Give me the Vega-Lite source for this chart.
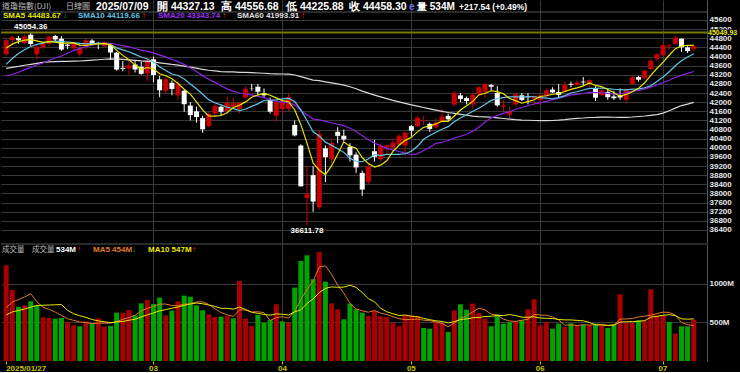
{
"$schema": "https://vega.github.io/schema/vega-lite/v6.json",
"background": "#000000",
"padding": 0,
"config": {
  "view": {"stroke": null},
  "font": "Liberation Sans",
  "concat": {"spacing": 0},
  "axis": {"labelFont": "Liberation Sans", "labelFontWeight": "bold", "labelFontSize": 8, "labelColor": "#e6e6e6", "gridColor": "#3a3a3a", "domainColor": "#555555", "ticks": false, "labelOverlap": false}
},
"datasets": {"k": [
{"d":"2025-01-27","o":44100,"h":44800,"l":44050,"c":44713.58,"v":1238,"chg":289,"s5":44377,"s10":43656,"s20":43147,"s60":43479,"vm5":690,"vm10":595},
{"d":"2025-01-28","o":44713,"h":44920,"l":44550,"c":44850.35,"v":919,"chg":137,"s5":44542,"s10":43912,"s20":43223,"s60":43523,"vm5":763,"vm10":635},
{"d":"2025-01-29","o":44800,"h":44900,"l":44560,"c":44713.52,"v":703,"chg":-137,"s5":44653,"s10":44131,"s20":43309,"s60":43565,"vm5":793,"vm10":653},
{"d":"2025-01-30","o":44600,"h":44970,"l":44550,"c":44882.13,"v":720,"chg":169,"s5":44717,"s10":44297,"s20":43424,"s60":43617,"vm5":827,"vm10":672},
{"d":"2025-01-31","o":44950,"h":45054.36,"l":44470,"c":44544.66,"v":772,"chg":-337,"s5":44741,"s10":44437,"s20":43524,"s60":43659,"vm5":870,"vm10":697},
{"d":"2025-02-03","o":44100,"h":44500,"l":43880,"c":44421.91,"v":720,"chg":-123,"s5":44683,"s10":44530,"s20":43626,"s60":43703,"vm5":767,"vm10":717},
{"d":"2025-02-04","o":44400,"h":44620,"l":44330,"c":44556.04,"v":565,"chg":134,"s5":44624,"s10":44583,"s20":43717,"s60":43742,"vm5":696,"vm10":721},
{"d":"2025-02-05","o":44560,"h":44900,"l":44450,"c":44873.28,"v":556,"chg":317,"s5":44656,"s10":44655,"s20":43825,"s60":43761,"vm5":667,"vm10":724},
{"d":"2025-02-06","o":44900,"h":44950,"l":44650,"c":44747.63,"v":548,"chg":-126,"s5":44629,"s10":44673,"s20":43936,"s60":43778,"vm5":632,"vm10":727},
{"d":"2025-02-07","o":44780,"h":44900,"l":44250,"c":44303.40,"v":556,"chg":-444,"s5":44580,"s10":44661,"s20":44020,"s60":43783,"vm5":589,"vm10":730},
{"d":"2025-02-10","o":44520,"h":44560,"l":44330,"c":44470.41,"v":505,"chg":167,"s5":44590,"s10":44636,"s20":44146,"s60":43786,"vm5":546,"vm10":656},
{"d":"2025-02-11","o":44360,"h":44640,"l":44260,"c":44593.65,"v":462,"chg":123,"s5":44598,"s10":44611,"s20":44261,"s60":43797,"vm5":525,"vm10":611},
{"d":"2025-02-12","o":44100,"h":44500,"l":44000,"c":44368.56,"v":449,"chg":-225,"s5":44497,"s10":44576,"s20":44354,"s60":43804,"vm5":504,"vm10":585},
{"d":"2025-02-13","o":44450,"h":44780,"l":44300,"c":44711.43,"v":513,"chg":343,"s5":44489,"s10":44559,"s20":44428,"s60":43820,"vm5":497,"vm10":565},
{"d":"2025-02-14","o":44700,"h":44760,"l":44500,"c":44546.08,"v":483,"chg":-165,"s5":44538,"s10":44559,"s20":44498,"s60":43838,"vm5":482,"vm10":536},
{"d":"2025-02-18","o":44600,"h":44620,"l":44330,"c":44556.34,"v":552,"chg":10,"s5":44555,"s10":44573,"s20":44551,"s60":43858,"vm5":492,"vm10":519},
{"d":"2025-02-19","o":44450,"h":44670,"l":44400,"c":44627.59,"v":444,"chg":71,"s5":44562,"s10":44580,"s20":44581,"s60":43881,"vm5":488,"vm10":507},
{"d":"2025-02-20","o":44500,"h":44580,"l":43850,"c":44176.65,"v":453,"chg":-451,"s5":44524,"s10":44510,"s20":44582,"s60":43893,"vm5":489,"vm10":497},
{"d":"2025-02-21","o":44170,"h":44200,"l":43380,"c":43428.02,"v":625,"chg":-749,"s5":44267,"s10":44378,"s20":44526,"s60":43886,"vm5":511,"vm10":504},
{"d":"2025-02-24","o":43500,"h":43800,"l":43350,"c":43461.21,"v":625,"chg":33,"s5":44050,"s10":44294,"s20":44477,"s60":43872,"vm5":540,"vm10":511},
{"d":"2025-02-25","o":43480,"h":43860,"l":43200,"c":43621.16,"v":660,"chg":160,"s5":43863,"s10":44209,"s20":44423,"s60":43853,"vm5":561,"vm10":527},
{"d":"2025-02-26","o":43650,"h":43800,"l":43300,"c":43433.12,"v":591,"chg":-188,"s5":43624,"s10":44093,"s20":44352,"s60":43830,"vm5":591,"vm10":540},
{"d":"2025-02-27","o":43550,"h":43780,"l":43200,"c":43239.50,"v":746,"chg":-194,"s5":43437,"s10":43980,"s20":44278,"s60":43805,"vm5":649,"vm10":569},
{"d":"2025-02-28","o":43250,"h":43880,"l":42900,"c":43840.91,"v":789,"chg":601,"s5":43519,"s10":43893,"s20":44226,"s60":43787,"vm5":682,"vm10":597},
{"d":"2025-03-03","o":43880,"h":44000,"l":42880,"c":43191.24,"v":737,"chg":-650,"s5":43465,"s10":43758,"s20":44158,"s60":43761,"vm5":705,"vm10":622},
{"d":"2025-03-04","o":43000,"h":43150,"l":42220,"c":42520.99,"v":819,"chg":-670,"s5":43245,"s10":43554,"s20":44063,"s60":43724,"vm5":736,"vm10":649},
{"d":"2025-03-05","o":42500,"h":43100,"l":42350,"c":43006.59,"v":591,"chg":486,"s5":43160,"s10":43392,"s20":43986,"s60":43691,"vm5":736,"vm10":664},
{"d":"2025-03-06","o":42850,"h":42950,"l":42300,"c":42579.08,"v":651,"chg":-428,"s5":43028,"s10":43232,"s20":43871,"s60":43654,"vm5":717,"vm10":683},
{"d":"2025-03-07","o":42300,"h":42900,"l":42100,"c":42801.72,"v":772,"chg":223,"s5":42820,"s10":43170,"s20":43774,"s60":43624,"vm5":714,"vm10":698},
{"d":"2025-03-10","o":42500,"h":42550,"l":41580,"c":41911.71,"v":845,"chg":-890,"s5":42564,"s10":43015,"s20":43654,"s60":43582,"vm5":736,"vm10":720},
{"d":"2025-03-11","o":41850,"h":42000,"l":41200,"c":41433.48,"v":832,"chg":-478,"s5":42347,"s10":42796,"s20":43503,"s60":43535,"vm5":738,"vm10":737},
{"d":"2025-03-12","o":41600,"h":41800,"l":41100,"c":41350.93,"v":720,"chg":-83,"s5":42015,"s10":42588,"s20":43340,"s60":43489,"vm5":764,"vm10":750},
{"d":"2025-03-13","o":41300,"h":41400,"l":40660,"c":40813.57,"v":656,"chg":-537,"s5":41662,"s10":42345,"s20":43163,"s60":43437,"vm5":765,"vm10":741},
{"d":"2025-03-14","o":40950,"h":41560,"l":40900,"c":41488.19,"v":604,"chg":675,"s5":41400,"s10":42110,"s20":43001,"s60":43398,"vm5":731,"vm10":723},
{"d":"2025-03-17","o":41500,"h":41960,"l":41400,"c":41841.63,"v":569,"chg":353,"s5":41386,"s10":41975,"s20":42866,"s60":43367,"vm5":676,"vm10":706},
{"d":"2025-03-18","o":41800,"h":41840,"l":41400,"c":41581.31,"v":574,"chg":-260,"s5":41415,"s10":41881,"s20":42718,"s60":43336,"vm5":625,"vm10":681},
{"d":"2025-03-19","o":41600,"h":42240,"l":41500,"c":41964.63,"v":582,"chg":383,"s5":41538,"s10":41777,"s20":42584,"s60":43330,"vm5":597,"vm10":681},
{"d":"2025-03-20","o":41800,"h":42200,"l":41700,"c":41953.32,"v":552,"chg":-11,"s5":41766,"s10":41714,"s20":42473,"s60":43323,"vm5":576,"vm10":671},
{"d":"2025-03-21","o":41700,"h":42000,"l":41500,"c":41985.35,"v":1035,"chg":32,"s5":41865,"s10":41632,"s20":42401,"s60":43309,"vm5":662,"vm10":697},
{"d":"2025-03-24","o":42200,"h":42700,"l":42150,"c":42583.32,"v":548,"chg":598,"s5":42013,"s10":41700,"s20":42357,"s60":43303,"vm5":658,"vm10":667},
{"d":"2025-03-25","o":42600,"h":42800,"l":42500,"c":42587.50,"v":453,"chg":4,"s5":42215,"s10":41815,"s20":42305,"s60":43292,"vm5":634,"vm10":629},
{"d":"2025-03-26","o":42680,"h":42800,"l":42300,"c":42454.79,"v":595,"chg":-133,"s5":42313,"s10":41925,"s20":42257,"s60":43277,"vm5":637,"vm10":617},
{"d":"2025-03-27","o":42400,"h":42600,"l":42200,"c":42299.70,"v":496,"chg":-155,"s5":42382,"s10":42074,"s20":42210,"s60":43266,"vm5":625,"vm10":601},
{"d":"2025-03-28","o":42100,"h":42200,"l":41500,"c":41583.90,"v":530,"chg":-716,"s5":42302,"s10":42084,"s20":42097,"s60":43249,"vm5":524,"vm10":593},
{"d":"2025-03-31","o":41400,"h":42050,"l":41150,"c":42001.76,"v":733,"chg":418,"s5":42186,"s10":42100,"s20":42037,"s60":43240,"vm5":561,"vm10":610},
{"d":"2025-04-01","o":41700,"h":42100,"l":41500,"c":41989.96,"v":513,"chg":-12,"s5":42066,"s10":42141,"s20":42011,"s60":43233,"vm5":573,"vm10":604},
{"d":"2025-04-02","o":41700,"h":42400,"l":41600,"c":42225.32,"v":496,"chg":235,"s5":42020,"s10":42167,"s20":41972,"s60":43225,"vm5":554,"vm10":595},
{"d":"2025-04-03","o":41000,"h":41200,"l":40500,"c":40545.93,"v":949,"chg":-1679,"s5":41669,"s10":42026,"s20":41870,"s60":43189,"vm5":644,"vm10":635},
{"d":"2025-04-04","o":40100,"h":40150,"l":38300,"c":38314.86,"v":1294,"chg":-2231,"s5":41016,"s10":41659,"s20":41646,"s60":43119,"vm5":797,"vm10":661},
{"d":"2025-04-07","o":37800,"h":39210,"l":36611.78,"c":37965.60,"v":1367,"chg":-349,"s5":40208,"s10":41197,"s20":41448,"s60":43041,"vm5":924,"vm10":743},
{"d":"2025-04-08","o":38800,"h":39200,"l":37200,"c":37645.59,"v":1057,"chg":-320,"s5":39340,"s10":40703,"s20":41259,"s60":42969,"vm5":1033,"vm10":803},
{"d":"2025-04-09","o":37400,"h":40800,"l":37300,"c":40608.45,"v":1410,"chg":2963,"s5":39016,"s10":40518,"s20":41222,"s60":42941,"vm5":1215,"vm10":885},
{"d":"2025-04-10","o":39980,"h":40100,"l":38500,"c":39593.66,"v":1026,"chg":-1015,"s5":38826,"s10":40248,"s20":41161,"s60":42892,"vm5":1231,"vm10":938},
{"d":"2025-04-11","o":39500,"h":40400,"l":39300,"c":40212.71,"v":746,"chg":619,"s5":39205,"s10":40111,"s20":41097,"s60":42842,"vm5":1121,"vm10":959},
{"d":"2025-04-14","o":40700,"h":40900,"l":40200,"c":40524.79,"v":669,"chg":312,"s5":39717,"s10":39963,"s20":41031,"s60":42798,"vm5":982,"vm10":953},
{"d":"2025-04-15","o":40530,"h":40800,"l":40300,"c":40368.96,"v":539,"chg":-156,"s5":40262,"s10":39801,"s20":40971,"s60":42746,"vm5":878,"vm10":955},
{"d":"2025-04-16","o":40050,"h":40200,"l":39400,"c":39669.39,"v":742,"chg":-700,"s5":40074,"s10":39545,"s20":40856,"s60":42674,"vm5":744,"vm10":980},
{"d":"2025-04-17","o":39700,"h":39800,"l":38900,"c":39142.23,"v":669,"chg":-527,"s5":39984,"s10":39405,"s20":40715,"s60":42590,"vm5":673,"vm10":952},
{"d":"2025-04-21","o":38900,"h":39000,"l":37900,"c":38170.41,"v":625,"chg":-972,"s5":39575,"s10":39390,"s20":40525,"s60":42484,"vm5":649,"vm10":885},
{"d":"2025-04-22","o":38500,"h":39350,"l":38400,"c":39186.98,"v":582,"chg":1017,"s5":39307,"s10":39512,"s20":40355,"s60":42396,"vm5":631,"vm10":807},
{"d":"2025-04-23","o":39850,"h":40350,"l":39400,"c":39606.57,"v":647,"chg":420,"s5":39155,"s10":39708,"s20":40206,"s60":42311,"vm5":653,"vm10":766},
{"d":"2025-04-24","o":39500,"h":40200,"l":39400,"c":40093.40,"v":578,"chg":487,"s5":39240,"s10":39657,"s20":40088,"s60":42232,"vm5":620,"vm10":682},
{"d":"2025-04-25","o":40000,"h":40150,"l":39700,"c":40113.50,"v":569,"chg":20,"s5":39434,"s10":39709,"s20":39978,"s60":42155,"vm5":600,"vm10":637},
{"d":"2025-04-28","o":40000,"h":40400,"l":39850,"c":40227.59,"v":492,"chg":114,"s5":39846,"s10":39710,"s20":39910,"s60":42078,"vm5":574,"vm10":611},
{"d":"2025-04-29","o":40150,"h":40600,"l":40100,"c":40527.62,"v":449,"chg":300,"s5":40114,"s10":39711,"s20":39837,"s60":42011,"vm5":547,"vm10":589},
{"d":"2025-04-30","o":40100,"h":40700,"l":39650,"c":40669.36,"v":591,"chg":142,"s5":40326,"s10":39741,"s20":39771,"s60":41948,"vm5":536,"vm10":594},
{"d":"2025-05-01","o":40950,"h":41000,"l":40500,"c":40752.96,"v":591,"chg":84,"s5":40458,"s10":39849,"s20":39697,"s60":41885,"vm5":538,"vm10":579},
{"d":"2025-05-02","o":40950,"h":41400,"l":40900,"c":41317.43,"v":582,"chg":564,"s5":40699,"s10":40067,"s20":39736,"s60":41826,"vm5":541,"vm10":571},
{"d":"2025-05-05","o":41180,"h":41400,"l":41000,"c":41218.83,"v":427,"chg":-99,"s5":40897,"s10":40372,"s20":39881,"s60":41767,"vm5":528,"vm10":551},
{"d":"2025-05-06","o":41050,"h":41100,"l":40700,"c":40829.00,"v":418,"chg":-390,"s5":40957,"s10":40536,"s20":40024,"s60":41709,"vm5":522,"vm10":534},
{"d":"2025-05-07","o":40900,"h":41300,"l":40850,"c":41113.97,"v":505,"chg":285,"s5":41046,"s10":40686,"s20":40197,"s60":41653,"vm5":505,"vm10":520},
{"d":"2025-05-08","o":41150,"h":41700,"l":41100,"c":41368.45,"v":492,"chg":254,"s5":41169,"s10":40814,"s20":40235,"s60":41599,"vm5":485,"vm10":512},
{"d":"2025-05-09","o":41400,"h":41500,"l":41150,"c":41249.38,"v":375,"chg":-119,"s5":41156,"s10":40927,"s20":40318,"s60":41547,"vm5":443,"vm10":492},
{"d":"2025-05-12","o":41900,"h":42470,"l":41800,"c":42410.10,"v":656,"chg":1161,"s5":41394,"s10":41146,"s20":40428,"s60":41509,"vm5":489,"vm10":509},
{"d":"2025-05-13","o":42300,"h":42400,"l":42000,"c":42140.43,"v":733,"chg":-270,"s5":41656,"s10":41307,"s20":40509,"s60":41469,"vm5":552,"vm10":537},
{"d":"2025-05-14","o":42180,"h":42250,"l":41900,"c":42051.06,"v":664,"chg":-89,"s5":41844,"s10":41445,"s20":40593,"s60":41427,"vm5":584,"vm10":544},
{"d":"2025-05-15","o":41900,"h":42400,"l":41700,"c":42322.75,"v":742,"chg":272,"s5":42035,"s10":41602,"s20":40726,"s60":41389,"vm5":634,"vm10":559},
{"d":"2025-05-16","o":42350,"h":42700,"l":42300,"c":42654.74,"v":621,"chg":332,"s5":42316,"s10":41736,"s20":40901,"s60":41363,"vm5":683,"vm10":563},
{"d":"2025-05-19","o":42450,"h":42850,"l":42200,"c":42792.07,"v":548,"chg":137,"s5":42392,"s10":41893,"s20":41132,"s60":41353,"vm5":662,"vm10":575},
{"d":"2025-05-20","o":42750,"h":42800,"l":42500,"c":42677.24,"v":449,"chg":-115,"s5":42500,"s10":42078,"s20":41307,"s60":41340,"vm5":605,"vm10":579},
{"d":"2025-05-21","o":42400,"h":42700,"l":41800,"c":41860.44,"v":604,"chg":-817,"s5":42461,"s10":42153,"s20":41419,"s60":41310,"vm5":593,"vm10":588},
{"d":"2025-05-22","o":41800,"h":42100,"l":41600,"c":41859.09,"v":483,"chg":-1,"s5":42369,"s10":42202,"s20":41508,"s60":41284,"vm5":541,"vm10":588},
{"d":"2025-05-23","o":41450,"h":41800,"l":41300,"c":41603.07,"v":505,"chg":-256,"s5":42158,"s10":42237,"s20":41582,"s60":41257,"vm5":518,"vm10":601},
{"d":"2025-05-27","o":41900,"h":42400,"l":41800,"c":42343.65,"v":517,"chg":741,"s5":42069,"s10":42230,"s20":41688,"s60":41232,"vm5":512,"vm10":587},
{"d":"2025-05-28","o":42300,"h":42400,"l":42050,"c":42098.70,"v":526,"chg":-245,"s5":41953,"s10":42226,"s20":41767,"s60":41214,"vm5":527,"vm10":566},
{"d":"2025-05-29","o":42250,"h":42400,"l":41900,"c":42215.73,"v":669,"chg":117,"s5":42024,"s10":42243,"s20":41844,"s60":41208,"vm5":540,"vm10":566},
{"d":"2025-05-30","o":42150,"h":42300,"l":41900,"c":42270.07,"v":798,"chg":54,"s5":42106,"s10":42238,"s20":41920,"s60":41196,"vm5":603,"vm10":572},
{"d":"2025-06-02","o":42100,"h":42350,"l":41850,"c":42305.48,"v":462,"chg":35,"s5":42247,"s10":42203,"s20":41969,"s60":41192,"vm5":594,"vm10":556},
{"d":"2025-06-03","o":42300,"h":42600,"l":42200,"c":42519.64,"v":505,"chg":214,"s5":42282,"s10":42175,"s20":42034,"s60":41187,"vm5":592,"vm10":552},
{"d":"2025-06-04","o":42550,"h":42650,"l":42400,"c":42427.74,"v":418,"chg":-92,"s5":42348,"s10":42150,"s20":42114,"s60":41196,"vm5":570,"vm10":549},
{"d":"2025-06-05","o":42450,"h":42800,"l":42200,"c":42319.74,"v":483,"chg":-108,"s5":42369,"s10":42196,"s20":42174,"s60":41210,"vm5":533,"vm10":537},
{"d":"2025-06-06","o":42450,"h":42900,"l":42450,"c":42762.87,"v":440,"chg":443,"s5":42467,"s10":42287,"s20":42244,"s60":41234,"vm5":462,"vm10":532},
{"d":"2025-06-09","o":42800,"h":42900,"l":42650,"c":42761.76,"v":488,"chg":-1,"s5":42559,"s10":42403,"s20":42320,"s60":41266,"vm5":467,"vm10":531},
{"d":"2025-06-10","o":42750,"h":42950,"l":42700,"c":42866.87,"v":462,"chg":105,"s5":42628,"s10":42455,"s20":42343,"s60":41289,"vm5":458,"vm10":525},
{"d":"2025-06-11","o":42900,"h":43100,"l":42750,"c":42865.77,"v":470,"chg":-1,"s5":42716,"s10":42532,"s20":42379,"s60":41306,"vm5":469,"vm10":520},
{"d":"2025-06-12","o":42800,"h":43000,"l":42650,"c":42967.62,"v":462,"chg":102,"s5":42845,"s10":42607,"s20":42425,"s60":41329,"vm5":464,"vm10":499},
{"d":"2025-06-13","o":42600,"h":42700,"l":42050,"c":42197.79,"v":483,"chg":-770,"s5":42732,"s10":42600,"s20":42419,"s60":41333,"vm5":473,"vm10":467},
{"d":"2025-06-16","o":42300,"h":42700,"l":42300,"c":42515.09,"v":462,"chg":317,"s5":42683,"s10":42621,"s20":42412,"s60":41343,"vm5":468,"vm10":467},
{"d":"2025-06-17","o":42450,"h":42550,"l":42100,"c":42215.80,"v":427,"chg":-299,"s5":42553,"s10":42590,"s20":42383,"s60":41347,"vm5":461,"vm10":460},
{"d":"2025-06-18","o":42250,"h":42500,"l":42100,"c":42171.66,"v":475,"chg":-44,"s5":42414,"s10":42565,"s20":42358,"s60":41340,"vm5":462,"vm10":465},
{"d":"2025-06-20","o":42300,"h":42600,"l":42100,"c":42206.82,"v":863,"chg":35,"s5":42262,"s10":42553,"s20":42375,"s60":41333,"vm5":542,"vm10":503},
{"d":"2025-06-23","o":42100,"h":42600,"l":41950,"c":42581.78,"v":492,"chg":375,"s5":42338,"s10":42535,"s20":42411,"s60":41335,"vm5":544,"vm10":508},
{"d":"2025-06-24","o":42800,"h":43200,"l":42750,"c":43089.02,"v":492,"chg":507,"s5":42453,"s10":42568,"s20":42485,"s60":41349,"vm5":550,"vm10":509},
{"d":"2025-06-25","o":43100,"h":43150,"l":42900,"c":42982.43,"v":526,"chg":-107,"s5":42606,"s10":42580,"s20":42517,"s60":41372,"vm5":570,"vm10":515},
{"d":"2025-06-26","o":43050,"h":43400,"l":43000,"c":43386.84,"v":526,"chg":404,"s5":42849,"s10":42632,"s20":42582,"s60":41395,"vm5":580,"vm10":521},
{"d":"2025-06-27","o":43450,"h":43900,"l":43400,"c":43819.27,"v":928,"chg":432,"s5":43172,"s10":42717,"s20":42662,"s60":41425,"vm5":593,"vm10":567},
{"d":"2025-06-30","o":43900,"h":44150,"l":43800,"c":44094.77,"v":591,"chg":276,"s5":43474,"s10":42906,"s20":42753,"s60":41457,"vm5":613,"vm10":578},
{"d":"2025-07-01","o":44050,"h":44600,"l":44000,"c":44494.94,"v":591,"chg":400,"s5":43756,"s10":43104,"s20":42863,"s60":41522,"vm5":632,"vm10":591},
{"d":"2025-07-02","o":44450,"h":44550,"l":44300,"c":44484.42,"v":505,"chg":-11,"s5":44056,"s10":43331,"s20":42961,"s60":41625,"vm5":628,"vm10":599},
{"d":"2025-07-03","o":44550,"h":44890,"l":44500,"c":44828.53,"v":354,"chg":344,"s5":44344,"s10":43597,"s20":43081,"s60":41740,"vm5":594,"vm10":587},
{"d":"2025-07-07","o":44780,"h":44800,"l":44200,"c":44406.36,"v":449,"chg":-422,"s5":44462,"s10":43817,"s20":43185,"s60":41852,"vm5":498,"vm10":545},
{"d":"2025-07-08","o":44400,"h":44450,"l":44150,"c":44240.76,"v":449,"chg":-166,"s5":44491,"s10":43983,"s20":43259,"s60":41913,"vm5":470,"vm10":541},
{"d":"2025-07-09","o":44327.13,"h":44556.68,"l":44225.88,"c":44458.30,"v":534,"chg":218,"s5":44484,"s10":44120,"s20":43344,"s60":41994,"vm5":458,"vm10":545}
]},
"vconcat": [
{
  "width": 706, "height": 243,
  "resolve": {"axis": {"y": "independent"}},
  "layer": [
    {"data": {"name": "k"},
     "resolve": {"axis": {"y": "independent"}},
     "encoding": {"x": {"field": "d", "type": "ordinal", "scale": {"type": "band", "paddingInner": 0, "paddingOuter": 1.95, "align": 0.17},
        "axis": {"values": ["2025-01-27","2025-03-03","2025-04-01","2025-05-01","2025-06-02","2025-07-01"], "labels": false, "ticks": false, "domain": false, "grid": true, "gridColor": {"condition": {"test": "datum.value == '2025-01-27'", "value": "rgba(0,0,0,0)"}, "value": "#3a3a3a"}, "title": null}}},
     "layer": [
       {"mark": {"type": "rule", "strokeWidth": 1},
        "encoding": {
          "y": {"field": "l", "type": "quantitative", "scale": {"domain": [35830, 46476], "nice": false, "zero": false},
                "axis": {"orient": "right", "values": [36400,36800,37200,37600,38000,38400,38800,39200,39600,40000,40400,40800,41200,41600,42000,42400,42800,43200,43600,44000,44400,44800,45200,45600],
                         "labelExpr": "'' + datum.value", "labelOverlap": false, "labelPadding": 2, "grid": true, "gridColor": "#3a3a3a", "domain": true, "domainColor": "#555555", "ticks": false, "title": null}},
          "y2": {"field": "h"},
          "color": {"condition": {"test": "datum.c >= datum.o", "value": "#c80000"}, "value": "#ffffff"}}},
       {"mark": {"type": "bar", "size": 5},
        "encoding": {
          "y": {"field": "o", "type": "quantitative", "axis": null},
          "y2": {"field": "c"},
          "color": {"condition": {"test": "datum.c >= datum.o", "value": "#c80000"}, "value": "#ffffff"}}},
       {"mark": {"type": "line", "color": "#d8d8d8", "strokeWidth": 1.2}, "encoding": {"y": {"field": "s60", "type": "quantitative", "axis": null}}},
       {"mark": {"type": "line", "color": "#8c24e0", "strokeWidth": 1.2}, "encoding": {"y": {"field": "s20", "type": "quantitative", "axis": null}}},
       {"mark": {"type": "line", "color": "#62c4e6", "strokeWidth": 1.2}, "encoding": {"y": {"field": "s10", "type": "quantitative", "axis": null}}},
       {"mark": {"type": "line", "color": "#e8e800", "strokeWidth": 1.2}, "encoding": {"y": {"field": "s5", "type": "quantitative", "axis": null}}},
       {"transform": [{"filter": "datum.d == '2025-01-31'"}],
        "mark": {"type": "text", "color": "#ffffff", "fontSize": 8, "fontWeight": "bold", "baseline": "bottom", "dy": -1},
        "encoding": {"y": {"field": "h", "type": "quantitative", "axis": null}, "text": {"field": "h", "format": ".2f"}}},
       {"transform": [{"filter": "datum.d == '2025-04-07'"}],
        "mark": {"type": "text", "color": "#ffffff", "fontSize": 8, "fontWeight": "bold", "baseline": "top", "dy": 2},
        "encoding": {"y": {"field": "l", "type": "quantitative", "axis": null}, "text": {"field": "l", "format": ".2f"}}}
     ]},
    {"data": {"values": [{}]}, "mark": {"type": "rule", "color": "#555555", "strokeWidth": 1}, "encoding": {"y": {"datum": 45950, "type": "quantitative", "axis": null}}},
    {"data": {"values": [{}]}, "mark": {"type": "rule", "color": "#7a7a00", "strokeWidth": 2}, "encoding": {"y": {"datum": 45049.93, "type": "quantitative", "axis": null}}},
    {"data": {"values": [{}]}, "mark": {"type": "rect", "color": "#000000", "x": 707, "x2": 740}, "encoding": {"y": {"datum": 45180, "type": "quantitative", "axis": null}, "y2": {"datum": 44920}}},
    {"data": {"values": [{}]}, "mark": {"type": "text", "text": "45049.93", "x": 707, "align": "left", "baseline": "middle", "color": "#e8e800", "fontSize": 7, "fontWeight": "bold"}, "encoding": {"y": {"datum": 45049.93, "type": "quantitative", "axis": null}}},
    {"data": {"values": [{}]}, "mark": {"type": "text", "text": "道瓊指數(DJI)", "x": 1, "y": 7, "align": "left", "baseline": "middle", "color": "#bdbdbd", "fontSize": 8, "font": "Noto Sans CJK TC"}},
    {"data": {"values": [{}]}, "mark": {"type": "text", "text": "日線圖", "x": 65, "y": 7, "align": "left", "baseline": "middle", "color": "#bdbdbd", "fontSize": 8, "font": "Noto Sans CJK TC"}},
    {"data": {"values": [{}]}, "mark": {"type": "text", "text": "2025/07/09", "x": 95, "y": 7, "align": "left", "baseline": "middle", "color": "#ffffff", "fontSize": 10.5, "fontWeight": "bold"}},
    {"data": {"values": [{}]}, "mark": {"type": "text", "text": "開 44327.13", "x": 156, "y": 7, "align": "left", "baseline": "middle", "color": "#ffffff", "fontSize": 10.5, "fontWeight": "bold"}},
    {"data": {"values": [{}]}, "mark": {"type": "text", "text": "高 44556.68", "x": 220, "y": 7, "align": "left", "baseline": "middle", "color": "#ffffff", "fontSize": 10.5, "fontWeight": "bold"}},
    {"data": {"values": [{}]}, "mark": {"type": "text", "text": "低 44225.88", "x": 285, "y": 7, "align": "left", "baseline": "middle", "color": "#ffffff", "fontSize": 10.5, "fontWeight": "bold"}},
    {"data": {"values": [{}]}, "mark": {"type": "text", "text": "收 44458.30", "x": 348, "y": 7, "align": "left", "baseline": "middle", "color": "#ffffff", "fontSize": 10.5, "fontWeight": "bold"}},
    {"data": {"values": [{}]}, "mark": {"type": "text", "text": "e", "x": 408, "y": 7, "align": "left", "baseline": "middle", "color": "#7070ff", "fontSize": 10, "fontWeight": "bold"}},
    {"data": {"values": [{}]}, "mark": {"type": "text", "text": "量 534M", "x": 416, "y": 7, "align": "left", "baseline": "middle", "color": "#ffffff", "fontSize": 10, "fontWeight": "bold"}},
    {"data": {"values": [{}]}, "mark": {"type": "text", "text": "+217.54 (+0.49%)", "x": 458, "y": 7, "align": "left", "baseline": "middle", "color": "#ffffff", "fontSize": 8.5, "fontWeight": "bold"}},
    {"data": {"values": [{}]}, "mark": {"type": "text", "text": "SMA5 44483.67", "x": 2, "y": 16, "align": "left", "baseline": "middle", "color": "#e8e800", "fontSize": 8, "fontWeight": "bold"}},
    {"data": {"values": [{}]}, "mark": {"type": "text", "text": "↓", "x": 62, "y": 16, "align": "left", "baseline": "middle", "color": "#10c010", "fontSize": 8, "fontWeight": "bold"}},
    {"data": {"values": [{}]}, "mark": {"type": "text", "text": "SMA10 44119.66", "x": 77, "y": 16, "align": "left", "baseline": "middle", "color": "#62c4e6", "fontSize": 8, "fontWeight": "bold"}},
    {"data": {"values": [{}]}, "mark": {"type": "text", "text": "↑", "x": 141, "y": 16, "align": "left", "baseline": "middle", "color": "#ff2020", "fontSize": 8, "fontWeight": "bold"}},
    {"data": {"values": [{}]}, "mark": {"type": "text", "text": "SMA20 43343.74", "x": 157, "y": 16, "align": "left", "baseline": "middle", "color": "#9a30f0", "fontSize": 8, "fontWeight": "bold"}},
    {"data": {"values": [{}]}, "mark": {"type": "text", "text": "↑", "x": 221, "y": 16, "align": "left", "baseline": "middle", "color": "#ff2020", "fontSize": 8, "fontWeight": "bold"}},
    {"data": {"values": [{}]}, "mark": {"type": "text", "text": "SMA60 41993.91", "x": 236, "y": 16, "align": "left", "baseline": "middle", "color": "#e0e0e0", "fontSize": 8, "fontWeight": "bold"}},
    {"data": {"values": [{}]}, "mark": {"type": "text", "text": "↑", "x": 300, "y": 16, "align": "left", "baseline": "middle", "color": "#ff2020", "fontSize": 8, "fontWeight": "bold"}}
  ]
},
{
  "width": 706, "height": 117,
  "resolve": {"axis": {"y": "independent"}},
  "layer": [
    {"data": {"name": "k"},
     "resolve": {"axis": {"y": "independent"}},
     "encoding": {"x": {"field": "d", "type": "ordinal", "scale": {"type": "band", "paddingInner": 0, "paddingOuter": 1.95, "align": 0.17},
        "axis": {"values": ["2025-01-27","2025-03-03","2025-04-01","2025-05-01","2025-06-02","2025-07-01"],
                 "labelExpr": "datum.value == '2025-01-27' ? '2025/01/27' : slice(datum.value, 5, 7)",
                 "labelAngle": 0, "labelColor": "#c8c800", "labelFontSize": 8, "labelFontWeight": "bold", "labelPadding": 0,
                 "labelAlign": {"condition": {"test": "datum.value == '2025-01-27'", "value": "left"}, "value": "center"},
                 "ticks": true, "tickColor": "#c8c800", "tickSize": 3, "domain": false, "grid": true,
                 "gridColor": {"condition": {"test": "datum.value == '2025-01-27'", "value": "rgba(0,0,0,0)"}, "value": "#3a3a3a"}, "title": null}}},
     "layer": [
       {"mark": {"type": "bar", "size": 5},
        "encoding": {
          "y": {"field": "v", "type": "quantitative", "scale": {"domain": [0, 1513], "nice": false},
                "axis": {"orient": "right", "values": [500, 1000], "labelExpr": "datum.value + 'M'", "grid": true, "gridColor": "#3a3a3a", "domain": true, "domainColor": "#555555", "ticks": false, "labelPadding": 2, "title": null}},
          "color": {"condition": {"test": "datum.chg >= 0", "value": "#a80000"}, "value": "#00a300"}}},
       {"mark": {"type": "line", "color": "#e07a2a", "strokeWidth": 1}, "encoding": {"y": {"field": "vm5", "type": "quantitative", "axis": null}}},
       {"mark": {"type": "line", "color": "#e8e800", "strokeWidth": 1}, "encoding": {"y": {"field": "vm10", "type": "quantitative", "axis": null}}}
     ]},
    {"data": {"values": [{}]}, "mark": {"type": "rule", "color": "#555555", "strokeWidth": 1}, "encoding": {"y": {"datum": 1513, "type": "quantitative", "axis": null}}},
    {"data": {"values": [{}]}, "mark": {"type": "text", "text": "成交量", "x": 1, "y": 6, "align": "left", "baseline": "middle", "color": "#bdbdbd", "fontSize": 7.5, "font": "Noto Sans CJK TC"}},
    {"data": {"values": [{}]}, "mark": {"type": "text", "text": "成交量", "x": 31, "y": 6, "align": "left", "baseline": "middle", "color": "#bdbdbd", "fontSize": 7.5, "font": "Noto Sans CJK TC"}},
    {"data": {"values": [{}]}, "mark": {"type": "text", "text": "534M", "x": 55, "y": 6, "align": "left", "baseline": "middle", "color": "#ffffff", "fontSize": 8, "fontWeight": "bold"}},
    {"data": {"values": [{}]}, "mark": {"type": "text", "text": "↑", "x": 76, "y": 6, "align": "left", "baseline": "middle", "color": "#ff2020", "fontSize": 8, "fontWeight": "bold"}},
    {"data": {"values": [{}]}, "mark": {"type": "text", "text": "MA5 454M", "x": 92, "y": 6, "align": "left", "baseline": "middle", "color": "#e07a2a", "fontSize": 8, "fontWeight": "bold"}},
    {"data": {"values": [{}]}, "mark": {"type": "text", "text": "↓", "x": 131, "y": 6, "align": "left", "baseline": "middle", "color": "#10c010", "fontSize": 8, "fontWeight": "bold"}},
    {"data": {"values": [{}]}, "mark": {"type": "text", "text": "MA10 547M", "x": 147, "y": 6, "align": "left", "baseline": "middle", "color": "#e8e800", "fontSize": 8, "fontWeight": "bold"}},
    {"data": {"values": [{}]}, "mark": {"type": "text", "text": "↑", "x": 191, "y": 6, "align": "left", "baseline": "middle", "color": "#ff2020", "fontSize": 8, "fontWeight": "bold"}}
  ]
}
]
}
